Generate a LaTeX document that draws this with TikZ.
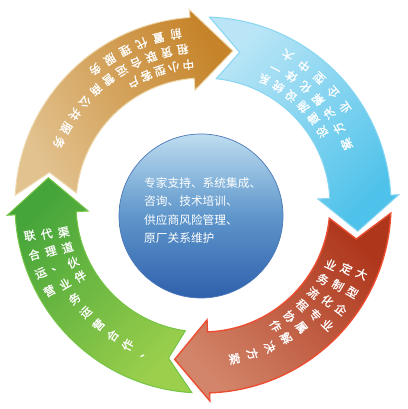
\documentclass[tikz,border=0pt]{standalone}
\usepackage{fontspec}
\newfontfamily\cjk{Noto Sans CJK SC}
\newfontfamily\cjkb[FakeBold=1.2]{Noto Sans CJK SC}
\definecolor{orL}{HTML}{E2C28F}
\definecolor{orD}{HTML}{C6842A}
\definecolor{orE}{HTML}{EED8AE}
\definecolor{blL}{HTML}{B9E5F6}
\definecolor{blD}{HTML}{4EC2EA}
\definecolor{blE}{HTML}{86D6F2}
\definecolor{rdL}{HTML}{D2856A}
\definecolor{rdD}{HTML}{AE361B}
\definecolor{rdE}{HTML}{EC4E32}
\definecolor{grL}{HTML}{9BCF4C}
\definecolor{grD}{HTML}{45A53A}
\definecolor{grE}{HTML}{74C445}
\definecolor{hubT}{HTML}{BEDDF0}
\definecolor{hubM}{HTML}{5E96CB}
\definecolor{hubB}{HTML}{2F60AC}
\definecolor{hubE}{HTML}{4A78B8}
\newcommand\Ro{188}
\newcommand\Ri{127}
\newcommand\Rbo{196}
\newcommand\Rbi{115}
\newcommand\Rt{157}
% #1 style, #2 tail outer, #3 tail inner, #4 notch, #5 head base, #6 tip
\newcommand\ringarrow[6]{%
  \path[#1] (#2:\Ro) arc[start angle=#2, end angle=#5, radius=\Ro]
    -- (#5:\Rbo) -- (#6:\Rt) -- (#5:\Rbi) -- (#5:\Ri)
    arc[start angle=#5, end angle=#3, radius=\Ri] -- (#4:\Rt) -- cycle;}
% #1 name prefix, #2 radius, #3 start angle, #4 step, #5 rotation offset, #6 chars
\newcommand\arctext[6]{%
  \foreach \ch [count=\i] in {#6} {%
    \pgfmathsetmacro\myt{#3+(\i-1)*(#4)}%
    \pgfmathsetmacro\myr{\myt+(#5)}%
    \node[achar, rotate=\myr] (#1\i) at (\myt:#2) {\ch};
  }}
\begin{document}
\begin{tikzpicture}[x=1pt,y=1pt,
  achar/.style={text=white, font=\cjkb\fontsize{11.5}{11.5}\selectfont, inner sep=0pt},
  ctext/.style={text=white, font=\cjk\fontsize{11.7}{14}\selectfont, inner sep=0pt, anchor=west},
  orarrow/.style={draw=orE, line width=1pt, top color=orL, bottom color=orD, shading angle=120},
  blarrow/.style={draw=blE, line width=1pt, top color=blL, bottom color=blD, shading angle=45},
  rdarrow/.style={draw=rdE, line width=1.4pt, top color=rdD, bottom color=rdL, shading angle=-45},
  grarrow/.style={draw=grE, line width=1pt, top color=grL, bottom color=grD, shading angle=225},
  hub/.style={circle, minimum size=164pt, inner sep=0pt, draw=hubE, line width=.7pt,
    top color=hubT, bottom color=hubB, middle color=hubM}]
\useasboundingbox (0,0) rectangle (407,409);
\fill[white] (0,0) rectangle (407,409);
\begin{scope}[shift={(203,204)}]
  \ringarrow{orarrow}{177}{174.6}{168}{94}{79}
  \ringarrow{blarrow}{88}{84}{76.5}{3}{-9.6}
  \ringarrow{rdarrow}{-2.5}{-6}{-12.5}{-88}{-100.4}
  \ringarrow{grarrow}{266.6}{262}{257.3}{183}{170}
  % orange texts
  \arctext{oa}{173}{99}{5.9}{90}{前,置,代,理,服,务}
  \arctext{ob}{157}{97.5}{5.9}{90}{租,赁,联,合,运,营,商,公,共,服,务}
  \arctext{oc}{141}{96}{5.9}{90}{中,小,型,客,户}
  % blue texts
  \arctext{ba}{172}{60.5}{-6.5}{90}{大,中,型,企,业}
  \arctext{bb}{156}{62}{-6.5}{90}{一,体,化,解,决,方,案}
  \arctext{bc}{140}{64}{-6.5}{90}{系,统,设,施,建,设}
  % red texts
  \arctext{ra}{173}{-23.5}{-6.8}{0}{大,型,企,业}
  \arctext{rb}{157}{-24}{-6.8}{0}{定,制,化,专,属,解,决,方,案}
  \arctext{rc}{141}{-25}{-6.8}{0}{业,务,流,程,协,作}
  % green texts
  \arctext{ga}{176}{190}{6.4}{-180}{联,合,运,营}
  \arctext{gb}{159}{190.5}{6.4}{-180}{代,理,、,业,务,运,营,合,作,、}
  \arctext{gc}{142}{191}{6.4}{-180}{渠,道,伙,伴}
\end{scope}
\node[hub] (h) at (201,193) {};
\node[ctext] (t1) at (144,226) {专家支持、系统集成、};
\node[ctext] (t2) at (144,207.5) {咨询、技术培训、};
\node[ctext] (t3) at (144,189) {供应商风险管理、};
\node[ctext] (t4) at (144,170.5) {原厂关系维护};
\end{tikzpicture}
\end{document}
